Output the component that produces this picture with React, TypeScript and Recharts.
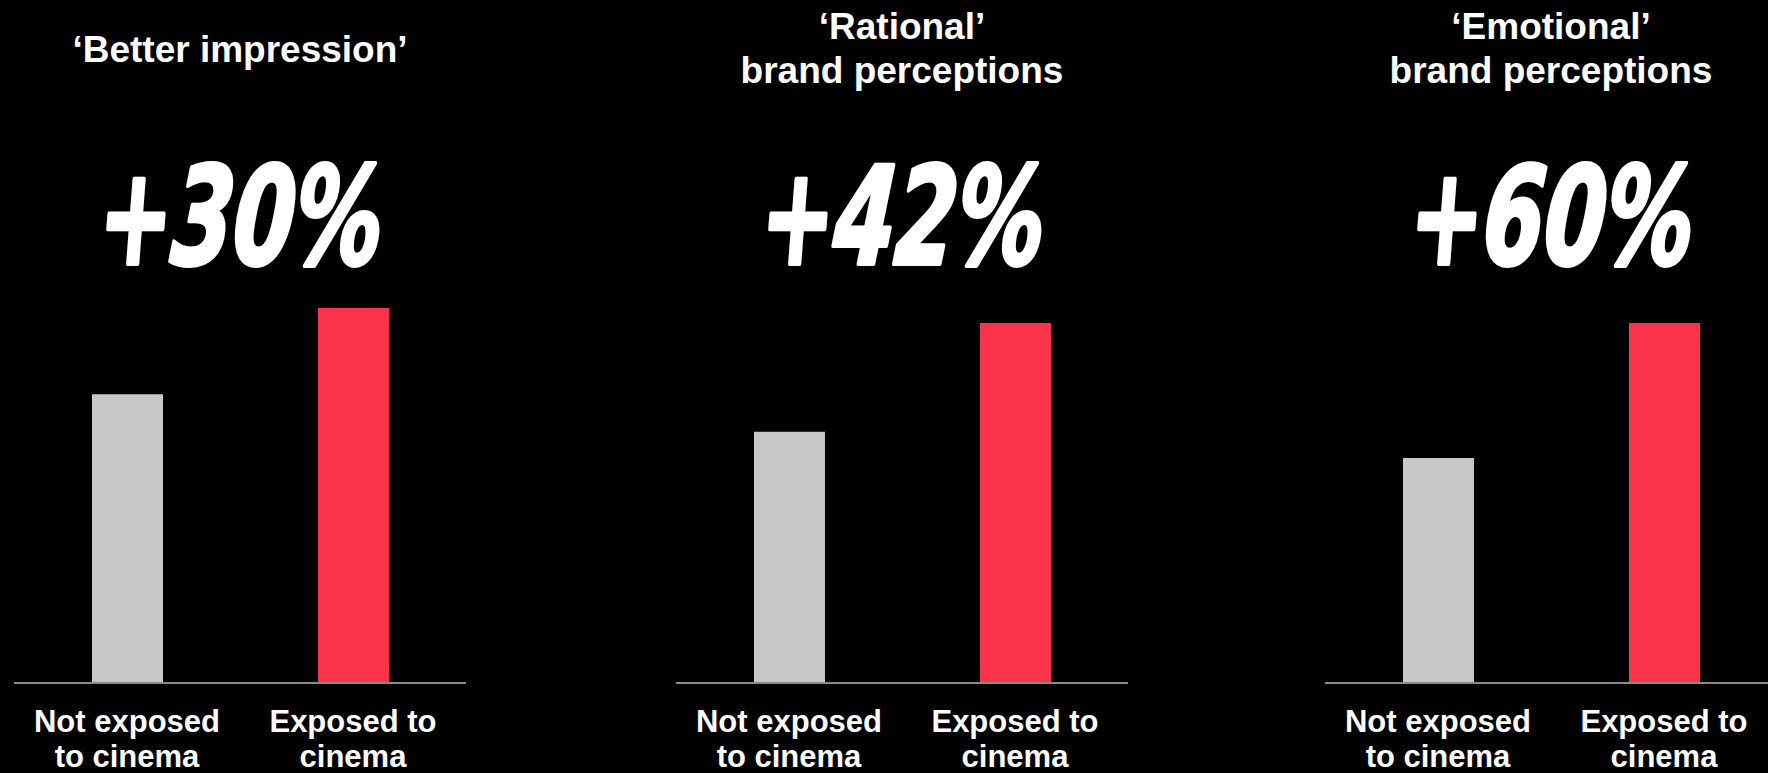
// Cinema exposure uplift: three small bar panels (not exposed vs exposed)
// each with a heading and a large uplift figure, on a black slide.
import React from "react";
import { Bar, BarChart, Cell, Customized, XAxis, YAxis } from "recharts";

const CATEGORY_LINES: string[][] = [
  ["Not exposed", "to cinema"],
  ["Exposed to", "cinema"],
];
const PANEL_TITLES: string[][] = [
  ["‘Better impression’"],
  ["‘Rational’", "brand perceptions"],
  ["‘Emotional’", "brand perceptions"],
];
const UPLIFT_LABELS = ["+30%", "+42%", "+60%"];
const NOT_EXPOSED_VALUES = [77, 67, 60];
const EXPOSED_VALUES = [100, 96, 96];

const BAR_COLORS = ["#c9c7c8", "#fb344b"];
const AXIS_COLOR = "#8a8a8a";

const PAGE_WIDTH = 1768;
const PAGE_HEIGHT = 773;
const PANEL_WIDTH = 480;
const PANEL_LEFTS = [0, 662, 1311];
const PANEL_CENTER = PANEL_WIDTH / 2;

interface CategoryTickProps {
  x?: number;
  y?: number;
  payload?: { value: number };
}

function CategoryTick({ x, y, payload }: CategoryTickProps) {
  if (x == null || y == null || payload == null) return null;
  const lines = CATEGORY_LINES[payload.value] ?? [];
  return (
    <text
      x={x}
      y={y}
      fill="#ffffff"
      fontSize={31}
      fontWeight={700}
      textAnchor="middle"
    >
      {lines.map((line, i) => (
        <tspan key={line} x={x} y={y + 49 + i * 35}>
          {line}
        </tspan>
      ))}
    </text>
  );
}

function PanelHeading({ index }: { index: number }) {
  const title = PANEL_TITLES[index];
  const firstBaseline = title.length === 1 ? 62 : 39;
  return (
    <g>
      {title.map((line, i) => (
        <text
          key={line}
          x={PANEL_CENTER}
          y={firstBaseline + i * 44}
          fill="#ffffff"
          fontSize={37}
          fontWeight={700}
          textAnchor="middle"
        >
          {line}
        </text>
      ))}
      <g transform={`translate(${PANEL_CENTER - 2} 264) scale(0.72 1) skewX(-6)`}>
        <text
          x={0}
          y={0}
          fill="#ffffff"
          stroke="#ffffff"
          strokeWidth={4}
          strokeLinejoin="round"
          fontSize={136}
          fontWeight={700}
          fontStyle="italic"
          fontFamily="'DejaVu Sans Condensed', 'DejaVu Sans', sans-serif"
          textAnchor="middle"
        >
          {UPLIFT_LABELS[index]}
        </text>
      </g>
    </g>
  );
}

function UpliftPanel({ index }: { index: number }) {
  const data = [
    { cat: 0, value: NOT_EXPOSED_VALUES[index] },
    { cat: 1, value: EXPOSED_VALUES[index] },
  ];
  return (
    <div style={{ position: "absolute", left: PANEL_LEFTS[index], top: 0 }}>
      <BarChart
        width={PANEL_WIDTH}
        height={PAGE_HEIGHT}
        data={data}
        margin={{ top: 308, right: 14, bottom: 0, left: 14 }}
        style={{ fontFamily: "'Liberation Sans', Arial, sans-serif" }}
      >
        <XAxis
          dataKey="cat"
          type="category"
          height={90}
          interval={0}
          tickLine={false}
          tickSize={0}
          tickMargin={0}
          axisLine={{ stroke: AXIS_COLOR, strokeWidth: 2 }}
          tick={<CategoryTick />}
        />
        <YAxis hide domain={[0, 100]} />
        <Bar dataKey="value" barSize={71} isAnimationActive={false}>
          {data.map((entry) => (
            <Cell key={entry.cat} fill={BAR_COLORS[entry.cat]} />
          ))}
        </Bar>
        <Customized component={<PanelHeading index={index} />} />
      </BarChart>
    </div>
  );
}

export default function App() {
  return (
    <div
      style={{
        position: "absolute",
        left: 0,
        top: 0,
        width: PAGE_WIDTH,
        height: PAGE_HEIGHT,
        background: "#000000",
        overflow: "hidden",
      }}
    >
      {PANEL_TITLES.map((_, i) => (
        <UpliftPanel key={i} index={i} />
      ))}
    </div>
  );
}
